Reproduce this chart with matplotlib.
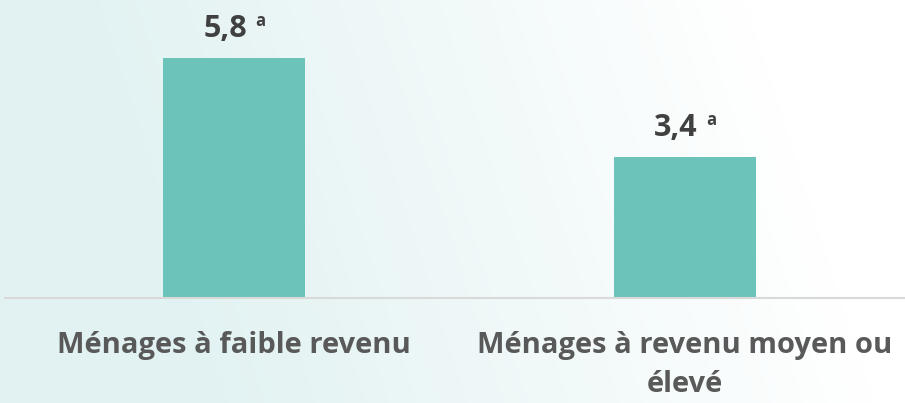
import numpy as np
import matplotlib
matplotlib.use("Agg")
import matplotlib.pyplot as plt

# data
categories = ["Ménages à faible revenu", "Ménages à revenu moyen ou\nélevé"]
values = [5.8, 3.4]
value_labels = ["5,8", "3,4"]
notes = ["a", "a"]

BAR = "#6CC3B9"
VAL_COL = "#404040"
LAB_COL = "#595959"
FONT = ["Open Sans", "DejaVu Sans"]

plt.rcParams["font.family"] = FONT

fig = plt.figure(figsize=(9.05, 4.03), dpi=100)

# soft teal background fading to white on the right
bg = fig.add_axes([0, 0, 1, 1], zorder=0)
gx, gy = np.meshgrid(np.linspace(0, 1, 300), np.linspace(0, 1, 150))
t = np.clip((gx - 0.25) * 1.4 + (1 - gy) * 0.2, 0, 1)
c0 = np.array([0.89, 0.95, 0.95])
c1 = np.array([1.0, 1.0, 1.0])
img = c0[None, None, :] * (1 - t[..., None]) + c1[None, None, :] * t[..., None]
bg.imshow(img, aspect="auto", extent=[0, 1, 0, 1], origin="upper")
bg.axis("off")

ax = fig.add_axes([5 / 905, 105 / 403, 900 / 905, 0.7188], zorder=1)
ax.patch.set_alpha(0)

x = np.arange(len(categories))
ax.bar(x, values, width=0.315, color=BAR, zorder=2)

ax.set_xlim(-0.5078, 1.4878)
ax.set_ylim(0, 7)

for xi, v, lab, n in zip(x, values, value_labels, notes):
    ax.annotate(lab, (xi, v), xytext=(-9, 21), textcoords="offset pixels",
                ha="center", va="baseline", fontsize=22, fontweight="bold",
                color=VAL_COL)
    ax.annotate(n, (xi, v), xytext=(21, 32), textcoords="offset pixels",
                ha="left", va="baseline", fontsize=12, fontweight="bold",
                color=VAL_COL)

ax.set_xticks(x)
ax.set_xticklabels(categories, fontsize=21, fontweight="bold", color=LAB_COL,
                   linespacing=1.45)
ax.tick_params(axis="x", length=0, pad=24)
ax.set_yticks([])

for s in ["top", "right", "left"]:
    ax.spines[s].set_visible(False)
ax.spines["bottom"].set_color("#D9D9D9")
ax.spines["bottom"].set_linewidth(1.5)

fig.savefig("out.png", dpi=100)
